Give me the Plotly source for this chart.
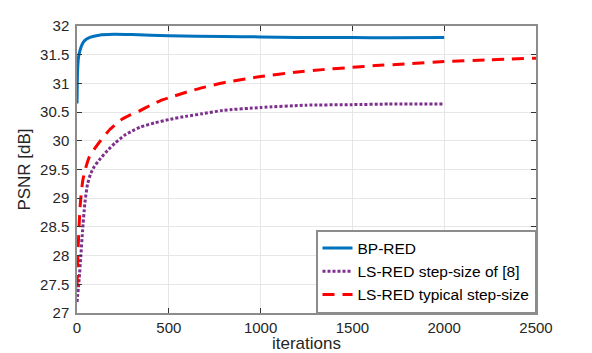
import plotly.graph_objects as go

bp_iter = [0, 3, 8, 15, 25, 40, 70, 120, 200, 300, 500, 800, 1000, 1200, 1500, 1700, 2000]
bp_psnr = [30.65, 31.2, 31.45, 31.56, 31.66, 31.74, 31.80, 31.84, 31.855, 31.85, 31.83, 31.815, 31.81, 31.80, 31.80, 31.795, 31.80]

ls8_iter = [0, 12, 21, 30, 43, 57, 75, 94, 130, 166, 210, 256, 300, 347, 420, 500, 600, 681, 794, 1000, 1246, 1500, 1697, 2000]
ls8_psnr = [27.19, 27.6, 28.0, 28.42, 28.92, 29.24, 29.43, 29.55, 29.7, 29.83, 29.97, 30.09, 30.17, 30.24, 30.31, 30.37, 30.43, 30.47, 30.53, 30.58, 30.62, 30.63, 30.64, 30.64]

lst_iter = [0, 3, 7, 11, 18, 31, 45, 67, 100, 130, 180, 238, 290, 347, 400, 455, 530, 599, 700, 812, 1000, 1200, 1336, 1500, 1625, 1800, 2000, 2250, 2500]
lst_psnr = [27.45, 27.8, 28.2, 28.5, 28.9, 29.3, 29.5, 29.72, 29.88, 30.01, 30.2, 30.36, 30.45, 30.53, 30.62, 30.7, 30.78, 30.85, 30.94, 31.02, 31.12, 31.2, 31.24, 31.28, 31.31, 31.34, 31.38, 31.41, 31.44]

x_ticks = [0, 500, 1000, 1500, 2000, 2500]
y_ticks = [27, 27.5, 28, 28.5, 29, 29.5, 30, 30.5, 31, 31.5, 32]
y_tick_text = ["27", "27.5", "28", "28.5", "29", "29.5", "30", "30.5", "31", "31.5", "32"]

FONT = "Liberation Sans, Arial, Helvetica"

fig = go.Figure()
fig.add_trace(go.Scatter(x=bp_iter, y=bp_psnr, mode="lines", name="BP-RED",
                         line=dict(color="#0072BD", width=3, shape="spline", smoothing=0.5)))
fig.add_trace(go.Scatter(x=ls8_iter, y=ls8_psnr, mode="lines", name="LS-RED step-size of [8]",
                         line=dict(color="#7E2F8E", width=3, dash="3px,2px", shape="spline", smoothing=0.5)))
fig.add_trace(go.Scatter(x=lst_iter, y=lst_psnr, mode="lines", name="LS-RED typical step-size",
                         line=dict(color="#FF0000", width=3, dash="12px,8px", shape="spline", smoothing=0.5)))

axis_common = dict(showline=True, linecolor="#8c8c8c", linewidth=1.5, mirror="allticks",
                   ticks="inside", ticklen=5, tickcolor="#333333", showgrid=True,
                   gridcolor="#e6e6e6", gridwidth=1, zeroline=False, automargin=False,
                   tickfont=dict(family=FONT, size=15, color="#262626"))

fig.update_xaxes(range=[0, 2500], tickvals=x_ticks, ticklabelstandoff=0,
                 title=dict(text="iterations", font=dict(family=FONT, size=17, color="#262626"), standoff=0),
                 **axis_common)
fig.update_yaxes(range=[27, 32], tickvals=y_ticks, ticktext=y_tick_text, ticklabelstandoff=3,
                 title=dict(text="PSNR [dB]", font=dict(family=FONT, size=17, color="#262626"), standoff=5),
                 **axis_common)

fig.update_layout(
    width=592, height=353,
    margin=dict(l=77, r=56, t=26, b=40),
    paper_bgcolor="white", plot_bgcolor="white",
    showlegend=True,
    legend=dict(x=1, y=0, xanchor="right", yanchor="bottom",
                bgcolor="white", bordercolor="#8c8c8c", borderwidth=1.5,
                font=dict(family=FONT, size=15.5, color="#000000"),
                tracegroupgap=0, itemwidth=30),
)

fig.write_html("out.html", config={"displayModeBar": False},
               post_script="document.body.style.margin='0px';document.body.style.overflow='hidden';")
